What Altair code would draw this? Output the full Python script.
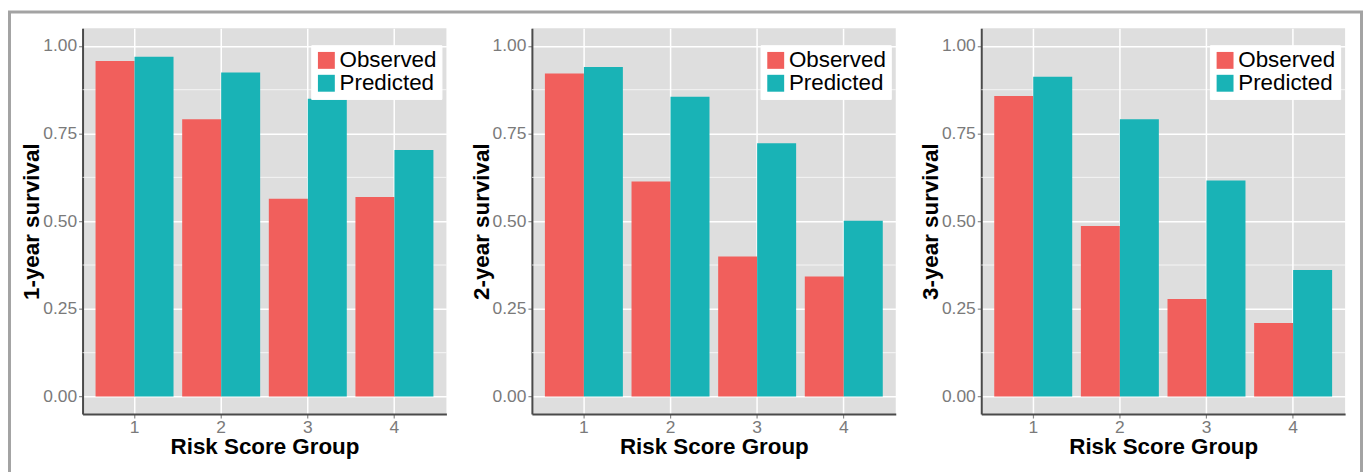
import altair as alt
import pandas as pd

groups = ["1", "2", "3", "4"]
series = ["Observed", "Predicted"]
observed_1yr = [0.957, 0.791, 0.564, 0.569]
predicted_1yr = [0.969, 0.924, 0.849, 0.703]
observed_2yr = [0.921, 0.613, 0.399, 0.342]
predicted_2yr = [0.940, 0.855, 0.722, 0.501]
observed_3yr = [0.857, 0.486, 0.278, 0.210]
predicted_3yr = [0.912, 0.791, 0.616, 0.361]
y_titles = ["1-year survival", "2-year survival", "3-year survival"]
x_title = "Risk Score Group"
y_ticks = [0.0, 0.25, 0.5, 0.75, 1.0]
y_minor = [0.125, 0.375, 0.625, 0.875]
colors = ["#F15F5C", "#19B3B6"]

FONT = "Liberation Sans"
PW, PH = 366, 388
LABEL_SIZE = 17.5

yscale = alt.Scale(domain=[-0.05, 1.05], nice=False, zero=False)


def y_axis(title):
    return alt.Axis(
        title=title, values=y_ticks, format=".2f", grid=True,
        gridColor="white", gridWidth=1.5,
        domainColor="#4A4A4A", domainWidth=2,
        tickColor="#8A8A8A", tickSize=4, tickWidth=1.2,
        labelFontSize=LABEL_SIZE, labelColor="#7A7A7A", labelPadding=2,
        labelFont=FONT,
        titleFontSize=22.5, titleFontWeight="bold", titleColor="black",
        titleFont=FONT, titleBaseline="alphabetic", titleX=-44,
    )


def panel(obs, pred, title, with_frame):
    df = pd.DataFrame({
        "group": groups * 2,
        "series": [series[0]] * 4 + [series[1]] * 4,
        "value": obs + pred,
    })
    minor = alt.Chart(pd.DataFrame({"v": y_minor})).mark_rule(
        color="white", strokeWidth=0.7
    ).encode(y=alt.Y("v:Q", scale=yscale, axis=y_axis(title)))

    bars = alt.Chart(df).mark_bar().encode(
        x=alt.X("group:N", sort=groups,
                scale=alt.Scale(paddingInner=0.1, paddingOuter=0.15),
                axis=alt.Axis(
                    title=x_title, labelAngle=0, grid=True, bandPosition=0.5,
                    gridColor="white", gridWidth=1.5,
                    domainColor="#4A4A4A", domainWidth=2,
                    tickColor="#8A8A8A", tickSize=4, tickWidth=1.2,
                    labelFontSize=LABEL_SIZE, labelColor="#7A7A7A",
                    labelPadding=1, labelFont=FONT,
                    titleFontSize=22.5, titleFontWeight="bold",
                    titleColor="black", titleFont=FONT,
                    titleBaseline="alphabetic", titleY=40,
                )),
        xOffset=alt.XOffset("series:N", sort=series,
                            scale=alt.Scale(paddingInner=0, paddingOuter=0)),
        y=alt.Y("value:Q", scale=yscale, axis=y_axis(title)),
        color=alt.Color("series:N",
                        scale=alt.Scale(domain=series, range=colors),
                        legend=alt.Legend(
                            title=None, orient="none", legendX=230, legendY=17,
                            symbolType="square", symbolSize=289,
                            symbolStrokeWidth=0, symbolOpacity=1,
                            labelFontSize=22.5, labelColor="black",
                            labelFont=FONT,
                            labelOffset=2, rowPadding=0, padding=4,
                            fillColor="white", strokeColor="white",
                        )),
    )
    layers = [minor, bars]
    if with_frame:
        frame = alt.Chart(alt.Data(values=[{}])).mark_rect(
            filled=False, stroke="#A3A3A3", strokeWidth=3
        ).encode(
            x=alt.value(-73.5), x2=alt.value(1286.5),
            y=alt.value(-16.5), y2=alt.value(470),
        )
        layers.append(frame)
    return alt.layer(*layers).properties(
        width=PW, height=PH,
        view=alt.ViewBackground(fill="#DEDEDE", stroke=None),
    )


p1 = panel(observed_1yr, predicted_1yr, y_titles[0], True)
p2 = panel(observed_2yr, predicted_2yr, y_titles[1], False)
p3 = panel(observed_3yr, predicted_3yr, y_titles[2], False)

chart = alt.hconcat(p1, p2, p3, spacing=86, bounds="flush").resolve_legend(
    color="independent"
).properties(
    padding={"left": 0, "top": 1, "right": 0, "bottom": 0}
).configure_view(
    fill="#DEDEDE", stroke=None
).configure(font=FONT)

chart.save("out.html", embed_options={"renderer": "svg", "actions": False})
